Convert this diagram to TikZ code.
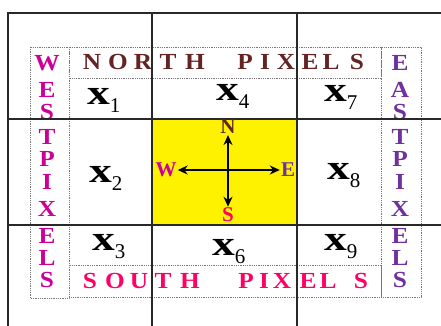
\documentclass[tikz,border=0pt]{standalone}
\usepackage{fontspec}
\usepackage{graphicx}
\setmainfont{Liberation Serif}
\usetikzlibrary{arrows.meta}
\definecolor{westc}{RGB}{204,0,153}
\definecolor{eastc}{RGB}{112,48,160}
\definecolor{northc}{RGB}{99,37,35}
\definecolor{southc}{RGB}{255,0,102}
\definecolor{gridc}{RGB}{40,40,40}
\definecolor{dotc}{RGB}{120,120,120}
\newcommand{\pxlab}[1]{{\fontsize{35}{35}\selectfont\bfseries\scalebox{1.3}[1]{x}}\raisebox{-8pt}{\fontsize{21}{21}\selectfont #1}}
\newcommand{\wide}[1]{\scalebox{1.1}[1]{#1}}
\begin{document}
\begin{tikzpicture}[x=1pt,y=-1pt,
  gridline/.style={draw=gridc,line width=1.4pt},
  dotbox/.style={draw=dotc,densely dotted,line width=0.8pt},
  letter/.style={font=\fontsize{23}{23}\selectfont\bfseries,inner sep=0pt},
  pix/.style={inner sep=0pt,anchor=base west},
  arr/.style={-{Stealth[length=10pt,width=9pt]},line width=2.2pt,draw=black},
  compass/.style={font=\fontsize{21}{21}\selectfont\bfseries,inner sep=1pt}]
\useasboundingbox (0,0) rectangle (441,326);
\fill[white] (0,0) rectangle (441,326);
% yellow center cell
\fill[yellow] (152,119) rectangle (297,225);
% dotted boxes
\draw[dotbox] (30,47) rectangle (69,298);
\draw[dotbox] (381,47) rectangle (421,297);
\draw[dotbox] (69,47) rectangle (381,78);
\draw[dotbox] (69,265) rectangle (381,297);
% west letters
\foreach \l/\y [count=\i] in {W/63,E/90,S/112,T/137,P/159,I/182,X/209,E/236,L/258,S/280}
  \node[letter,text=westc] (w\i) at (47,\y) {\wide{\l}};
% east letters
\foreach \l/\y [count=\i] in {E/63,A/90,S/112,T/137,P/159,I/182,X/209,E/236,L/258,S/280}
  \node[letter,text=eastc] (e\i) at (400,\y) {\wide{\l}};
% north letters
\foreach \l/\x [count=\i] in {N/92,O/118,R/143,T/168,H/195,P/245,I/265,X/286,E/310,L/331,S/357}
  \node[letter,text=northc] (n\i) at (\x,61.5) {\wide{\l}};
% south letters
\foreach \l/\x [count=\i] in {S/90,O/115,U/139,T/163,H/190,P/246,I/264,X/282,E/308,L/328,S/361}
  \node[letter,text=southc] (s\i) at (\x,281) {\wide{\l}};
% grid lines
\draw[gridline] (8,326) -- (8,13) -- (441,13);
\draw[gridline] (152,13) -- (152,326);
\draw[gridline] (297,13) -- (297,326);
\draw[gridline] (8,119) -- (441,119);
\draw[gridline] (8,225) -- (441,225);
% pixel labels
\node[pix] (p1) at (87,105) {\pxlab{1}};
\node[pix] (p4) at (216,100) {\pxlab{4}};
\node[pix] (p7) at (324,102) {\pxlab{7}};
\node[pix] (p2) at (89,182) {\pxlab{2}};
\node[pix] (p8) at (327,179) {\pxlab{8}};
\node[pix] (p3) at (92,250) {\pxlab{3}};
\node[pix] (p6) at (212,255) {\pxlab{6}};
\node[pix] (p9) at (324,250) {\pxlab{9}};
% compass
\coordinate (c) at (228,170);
\node[compass,text=northc] (cn) at (228,127) {N};
\node[compass,text=southc] (cs) at (228,215) {S};
\node[compass,text=westc] (cw) at (166,170) {W};
\node[compass,text=eastc] (ce) at (288,170) {E};
\draw[arr] (c) -- (cn);
\draw[arr] (c) -- (cs);
\draw[arr] (c) -- (cw);
\draw[arr] (c) -- (ce);
\end{tikzpicture}
\end{document}
